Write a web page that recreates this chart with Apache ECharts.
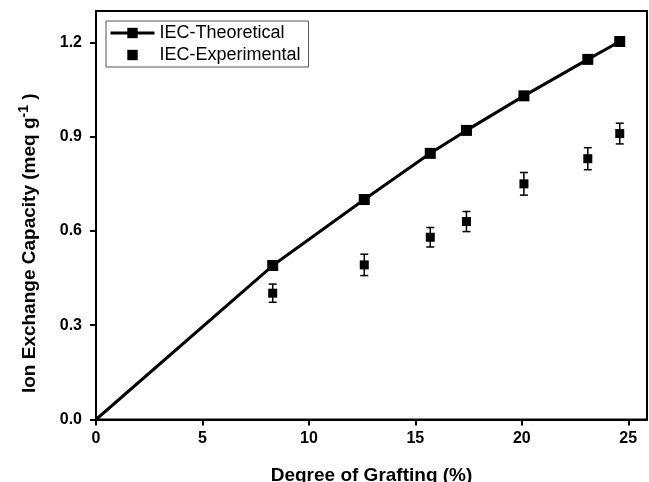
<!DOCTYPE html>
<html>
<head>
<meta charset="utf-8">
<script src="https://cdn.jsdelivr.net/npm/echarts@6/dist/echarts.min.js"></script>
<style>html,body{margin:0;padding:0;background:#fff}#c{width:649px;height:482px}</style>
</head>
<body>
<div id="c"></div>
<script>
const grafting = [0, 8.3, 12.6, 15.7, 17.4, 20.1, 23.1, 24.6];
const iecTheoretical = [0, 0.49, 0.70, 0.847, 0.92, 1.03, 1.146, 1.203];
const expGrafting = [8.3, 12.6, 15.7, 17.4, 20.1, 23.1, 24.6];
const iecExperimental = [0.402, 0.492, 0.58, 0.63, 0.75, 0.83, 0.91];
const iecError = [0.029, 0.034, 0.031, 0.032, 0.036, 0.035, 0.033];
const xTicks = [0, 5, 10, 15, 20, 25];
const yTicks = [0, 0.3, 0.6, 0.9, 1.2];

const font = '"Liberation Sans", Arial, sans-serif';
const chart = echarts.init(document.getElementById('c'), null, {renderer: 'canvas'});
const theoData = grafting.map((x, i) => (x === 0 ? {value: [x, iecTheoretical[i]], symbol: 'none'} : [x, iecTheoretical[i]]));
const expData = expGrafting.map((x, i) => [x, iecExperimental[i]]);
const errData = expGrafting.map((x, i) => [x, iecExperimental[i] - iecError[i], iecExperimental[i] + iecError[i]]);

chart.setOption({
  animation: false,
  backgroundColor: '#fff',
  grid: {left: 96, right: 2, top: 11, bottom: 62.5, show: true, borderColor: '#000', borderWidth: 2,
    containLabel: false, outerBoundsMode: 'none'},
  legend: {
    data: [{name: 'IEC-Theoretical'}, {name: 'IEC-Experimental'}],
    orient: 'vertical', left: 106, top: 21,
    itemWidth: 44, itemHeight: 13, itemGap: 4,
    padding: [3, 8, 3, 3],
    borderColor: '#555', borderWidth: 1,
    lineStyle: {width: 3},
    textStyle: {fontFamily: font, fontSize: 18, color: '#000', lineHeight: 17}
  },
  xAxis: {
    type: 'value', min: 0, max: 25.88,
    name: 'Degree of Grafting (%)', nameLocation: 'middle', nameGap: 47,
    nameTextStyle: {fontFamily: font, fontSize: 19, fontWeight: 'bold', color: '#000'},
    axisLine: {show: true, onZero: false, lineStyle: {color: '#000', width: 2}},
    axisTick: {show: true, inside: false, length: 6, customValues: xTicks, lineStyle: {color: '#000', width: 2}},
    axisLabel: {customValues: xTicks, margin: 11, fontFamily: font, fontSize: 16, fontWeight: 'bold', color: '#000'},
    splitLine: {show: false}
  },
  yAxis: {
    type: 'value', min: 0, max: 1.3,
    name: '{t|Ion Exchange Capacity (meq g}{s|-1}{t| )}', nameLocation: 'middle', nameGap: 53,
    nameTextStyle: {
      fontFamily: font, fontSize: 19, fontWeight: 'bold', color: '#000',
      padding: [0, 56, 0, 0],
      rich: {
        t: {fontFamily: font, fontSize: 19, fontWeight: 'bold', color: '#000'},
        s: {fontFamily: font, fontSize: 14, fontWeight: 'bold', color: '#000', verticalAlign: 'top', padding: [0, 0, 12, 0]}
      }
    },
    axisLine: {show: true, onZero: false, lineStyle: {color: '#000', width: 2}},
    axisTick: {show: true, inside: false, length: 6, customValues: yTicks, lineStyle: {color: '#000', width: 2}},
    axisLabel: {customValues: yTicks, margin: 14, fontFamily: font, fontSize: 16, fontWeight: 'bold', color: '#000',
      formatter: v => v.toFixed(1)},
    splitLine: {show: false}
  },
  series: [
    {
      name: 'IEC-Theoretical', type: 'line', data: theoData,
      symbol: 'rect', symbolSize: 11, showSymbol: true,
      lineStyle: {color: '#000', width: 3}, itemStyle: {color: '#000', opacity: 1},
      z: 3
    },
    {
      name: 'IEC-Experimental', type: 'line', data: expData,
      symbol: 'rect', symbolSize: 9, showSymbol: true,
      lineStyle: {color: '#000', width: 0, opacity: 0},
      itemStyle: {color: '#000', opacity: 1}, z: 4
    },
    {
      name: 'err', type: 'custom', data: errData, z: 2,
      renderItem: function (params, api) {
        const x = api.value(0);
        const lo = api.coord([x, api.value(1)]);
        const hi = api.coord([x, api.value(2)]);
        const hw = 4;
        const st = {stroke: '#000', lineWidth: 1.5};
        return {type: 'group', children: [
          {type: 'line', shape: {x1: lo[0], y1: lo[1], x2: hi[0], y2: hi[1]}, style: st},
          {type: 'line', shape: {x1: lo[0] - hw, y1: lo[1], x2: lo[0] + hw, y2: lo[1]}, style: st},
          {type: 'line', shape: {x1: hi[0] - hw, y1: hi[1], x2: hi[0] + hw, y2: hi[1]}, style: st}
        ]};
      }
    }
  ]
});
</script>
</body>
</html>
